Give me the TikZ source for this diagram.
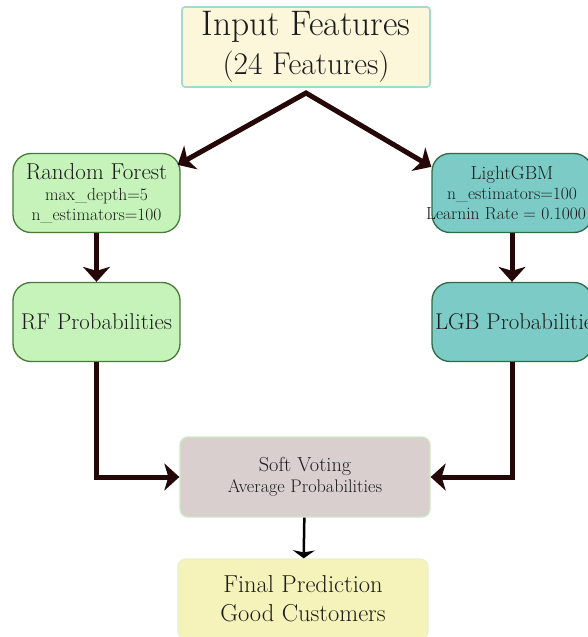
\documentclass[tikz,border=0pt]{standalone}
\usetikzlibrary{arrows.meta}
\definecolor{inputfill}{HTML}{FCF6DA}
\definecolor{inputline}{HTML}{9EDBD2}
\definecolor{rffill}{HTML}{C6F3BA}
\definecolor{rfline}{HTML}{4A7A3A}
\definecolor{lgbfill}{HTML}{7CCBC6}
\definecolor{lgbline}{HTML}{2E6A45}
\definecolor{votefill}{HTML}{D9CFCF}
\definecolor{voteline}{HTML}{D0E8C6}
\definecolor{finalfill}{HTML}{F6F3BA}
\definecolor{finalline}{HTML}{E9EFC8}
\definecolor{arrowbrown}{HTML}{260707}
\definecolor{textgray}{HTML}{1C1C1C}
\newcommand{\fs}[2]{\fontsize{#1}{#2}\selectfont}

\begin{document}
\begin{tikzpicture}[x=1pt,y=-1pt,
  box/.style={align=center,text=textgray,inner sep=0pt},
  inbox/.style={box,draw=inputline,fill=inputfill,line width=1.6pt,rounded corners=3pt,minimum width=248pt,minimum height=80pt},
  rfbox/.style={box,draw=rfline,fill=rffill,line width=1.3pt,rounded corners=18pt,minimum width=167pt,minimum height=79pt},
  lgbbox/.style={box,draw=lgbline,fill=lgbfill,line width=1.3pt,rounded corners=18pt,minimum width=160pt,minimum height=79pt},
  votebox/.style={box,draw=voteline,fill=votefill,line width=1.3pt,rounded corners=8pt,minimum width=250pt,minimum height=80pt},
  finalbox/.style={box,draw=finalline,fill=finalfill,line width=1.3pt,rounded corners=8pt,minimum width=250pt,minimum height=80pt},
  flow/.style={-{Stealth[length=15pt,width=27pt,inset=4pt]},line width=5pt,draw=arrowbrown},
  thinflow/.style={-{Stealth[length=8pt,width=22pt,inset=2pt]},line width=2.5pt,draw=black}]
  \useasboundingbox (0,0) rectangle (587,637);
  \node[inbox,font=\fs{35.5}{39}] (input) at (306,47) {Input Features\\\fs{31.5}{39}(24 Features)};
  \node[rfbox,font=\fs{17.5}{20}] (rf) at (96.5,193) {\fs{23}{22}Random Forest\\[1pt]max\_depth=5\\n\_estimators=100};
  \node[lgbbox,font=\fs{17.5}{20}] (lgb) at (512,193) {\fs{19}{21}LightGBM\\n\_estimators=100\\\makebox[160pt][l]{\hspace*{-6pt}Learnin Rate = 0.1000}};
  \node[rfbox,font=\fs{22.8}{23}] (rfp) at (96.5,322) {RF Probabilities};
  \node[lgbbox,font=\fs{22.8}{23}] (lgbp) at (512,322) {\makebox[154pt][l]{LGB Probabilities}};
  \node[votebox,font=\fs{18.2}{21}] (vote) at (305,477) {\fs{20.3}{21}Soft Voting\\Average Probabilities};
  \node[finalbox,font=\fs{24.5}{29}] (final) at (303,599) {\raisebox{-2pt}{Final Prediction}\\\raisebox{-2pt}{Good Customers}};
  \coordinate (fork) at (306,93);
  \draw[flow,{Stealth[length=15pt,width=27pt,inset=4pt]}-{Stealth[length=15pt,width=27pt,inset=4pt]}]
    ([shift={(-3,12)}]rf.north east) -- (fork) -- ([shift={(0,14)}]lgb.north west);
  \draw[flow] (rf) -- (rfp);
  \draw[flow] (lgb) -- (lgbp);
  \draw[flow] (rfp.south) |- (vote.west);
  \draw[flow] (lgbp.south) |- (vote.east);
  \draw[thinflow] (vote) -- (final);
\end{tikzpicture}
\end{document}
